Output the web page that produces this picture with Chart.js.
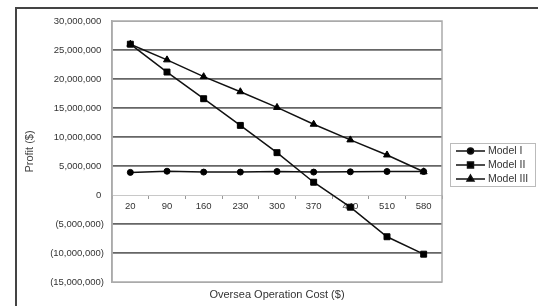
<!DOCTYPE html>
<html>
<head>
<meta charset="utf-8">
<script src="https://cdn.jsdelivr.net/npm/chart.js@4"></script>
<style>
  html, body { margin: 0; padding: 0; background: #fff; }
  #wrap { position: relative; width: 538px; height: 306px; overflow: hidden; }
  #frame { position: absolute; left: 15px; top: 7px; width: 600px; height: 400px;
           border-left: 2px solid #444; border-top: 2px solid #444; }
  canvas { position: absolute; left: 0; top: 0; }
</style>
</head>
<body>
<div id="wrap">
  <div id="frame"></div>
  <canvas id="c" width="538" height="306"></canvas>
</div>
<script>
const categories = ['20', '90', '160', '230', '300', '370', '440', '510', '580'];
const seriesNames = ['Model I', 'Model II', 'Model III'];
const modelI   = [3900000, 4100000, 3950000, 3950000, 4050000, 3950000, 4000000, 4050000, 4050000];
const modelII  = [26000000, 21200000, 16600000, 12000000, 7300000, 2200000, -2100000, -7200000, -10200000];
const modelIII = [26000000, 23300000, 20400000, 17800000, 15100000, 12200000, 9500000, 6900000, 4000000];
const yMin = -15000000, yMax = 30000000, yStep = 5000000;
const xTitle = 'Oversea Operation Cost ($)';
const yTitle = 'Profit ($)';

const FONT = "'Liberation Sans', Arial, sans-serif";
const pointStyles = ['circle', 'rect', 'triangle'];
const pointRadii = [3, 4.2, 4];

function fmt(v) {
  const s = Math.abs(v).toLocaleString('en-US');
  if (v < 0) return '(' + s + ')';
  return s + '\u00a0';
}

const frameBox = {
  id: 'frameBox',
  beforeDatasetsDraw(chart) {
    const {ctx, chartArea: a} = chart;
    ctx.save();
    ctx.strokeStyle = '#aaa';
    ctx.lineWidth = 1.5;
    ctx.strokeRect(a.left, a.top, a.right - a.left, a.bottom - a.top);
    ctx.restore();
  }
};

const customLegend = {
  id: 'customLegend',
  afterDraw(chart) {
    const ctx = chart.ctx;
    const bx = 450, by = 143, bw = 85, bh = 43;
    ctx.save();
    ctx.strokeStyle = '#bbb';
    ctx.lineWidth = 1;
    ctx.strokeRect(bx + 0.5, by + 0.5, bw, bh);
    ctx.font = '10.5px ' + FONT;
    ctx.textBaseline = 'middle';
    ctx.textAlign = 'left';
    chart.data.datasets.forEach((ds, i) => {
      const y = 151 + i * 14;
      ctx.strokeStyle = '#111';
      ctx.lineWidth = 1.5;
      ctx.beginPath();
      ctx.moveTo(456, y);
      ctx.lineTo(485, y);
      ctx.stroke();
      ctx.fillStyle = '#000';
      Chart.helpers.drawPoint(ctx, {
        pointStyle: ds.pointStyle, radius: ds.pointRadius, rotation: 0, borderWidth: 1
      }, 470.5, y);
      ctx.fillStyle = '#333';
      ctx.fillText(ds.label, 488, y + 0.5);
    });
    ctx.restore();
  }
};

const dataSets = [modelI, modelII, modelIII].map((arr, i) => ({
  label: seriesNames[i],
  data: arr,
  xAxisID: 'x',
  yAxisID: 'y',
  borderColor: '#111',
  backgroundColor: '#000',
  borderWidth: 1.5,
  pointStyle: pointStyles[i],
  pointRadius: pointRadii[i],
  pointBackgroundColor: '#000',
  pointBorderColor: '#000',
  pointBorderWidth: 1,
  tension: 0,
  fill: false
}));

new Chart(document.getElementById('c'), {
  type: 'line',
  data: { labels: categories, datasets: dataSets },
  options: {
    responsive: false,
    animation: false,
    events: [],
    layout: { padding: { left: 18, top: 21, right: 96, bottom: 0 } },
    plugins: { legend: { display: false }, tooltip: { enabled: false } },
    scales: {
      x: {
        type: 'category',
        position: { y: 0 },
        offset: true,
        grid: { display: true, drawOnChartArea: false, drawTicks: true, tickLength: 3, offset: true, color: '#999', lineWidth: 1 },
        border: { display: true, color: '#c8c8c8', width: 1 },
        ticks: { color: '#333', font: { family: FONT, size: 9.5 }, padding: 3, maxRotation: 0, autoSkip: false }
      },
      x2: {
        type: 'category',
        position: 'bottom',
        labels: categories,
        offset: true,
        grid: { display: false },
        border: { display: false },
        ticks: { display: false },
        title: { display: true, text: xTitle, color: '#333', font: { family: FONT, size: 11 }, padding: { top: 6.8, bottom: 4 } },
        afterFit(s) { s.height = 24; }
      },
      y: {
        type: 'linear',
        position: 'left',
        min: yMin,
        max: yMax,
        ticks: { stepSize: yStep, color: '#333', font: { family: FONT, size: 9.5 }, padding: 8, callback: (v) => fmt(v) },
        grid: {
          drawTicks: false,
          lineWidth: (c) => (c.tick && (c.tick.value === 0 || c.tick.value === yMin || c.tick.value === yMax)) ? 1 : 1.8,
          color: (c) => {
            if (!c.tick) return '#666';
            if (c.tick.value === 0) return 'rgba(0,0,0,0)';
            if (c.tick.value === yMin || c.tick.value === yMax) return '#aaa';
            return '#666';
          }
        },
        border: { display: true, color: '#aaa', width: 1.5 },
        title: { display: true, text: yTitle, color: '#444', font: { family: FONT, size: 11 }, padding: { top: 5.4, bottom: 0 } },
        afterFit(s) { s.width = 94; }
      }
    }
  },
  plugins: [frameBox, customLegend]
});
</script>
</body>
</html>
